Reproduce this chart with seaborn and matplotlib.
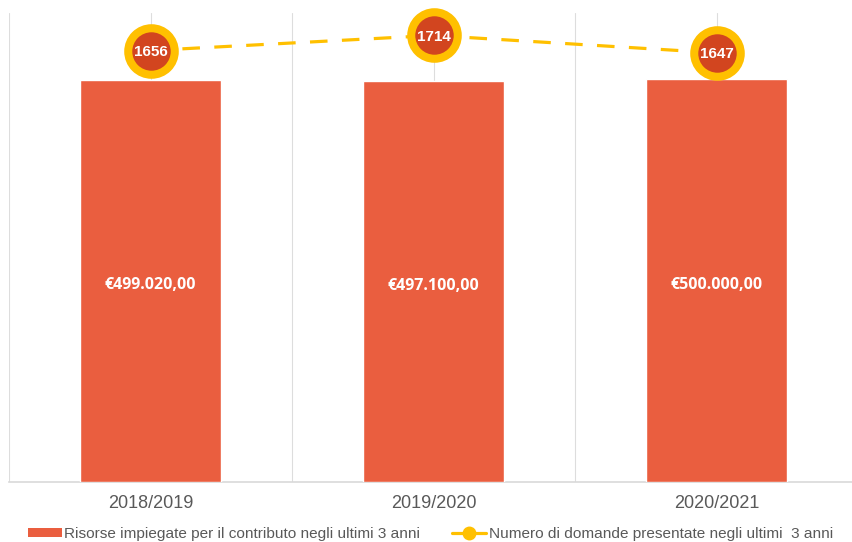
import matplotlib
matplotlib.use("Agg")
import matplotlib.pyplot as plt
import seaborn as sns
import numpy as np
import pandas as pd
from matplotlib.lines import Line2D
from matplotlib.patches import Patch

categories = ["2018/2019", "2019/2020", "2020/2021"]
risorse = [499020.00, 497100.00, 500000.00]
domande = [1656, 1714, 1647]
bar_labels = ["€499.020,00", "€497.100,00", "€500.000,00"]
legend_labels = ["Risorse impiegate per il contributo negli ultimi 3 anni",
                 "Numero di domande presentate negli ultimi  3 anni"]

BAR = "#EA5E3F"
RING = "#FFC000"
INNER = "#D2451F"
GRID = "#DDDDDD"
TXT = "#595959"

sns.set_theme(style="white")
plt.rcParams["font.family"] = ["Liberation Sans", "DejaVu Sans"]

fig = plt.figure(figsize=(8.52, 5.42), dpi=100)
W, H = 852, 542
ax = fig.add_axes([9 / W, 60 / H, 849 / W, 469 / H])

df = pd.DataFrame({"cat": categories, "val": risorse})
sns.barplot(data=df, x="cat", y="val", ax=ax, color=BAR, saturation=1,
            width=0.5, zorder=3)
ax.set_ylim(0, 582000)
ax.set_xlim(-0.5, 2.5)

# vertical grid lines
for xv in np.arange(-0.5, len(categories), 0.5):
    ax.axvline(xv, color=GRID, lw=0.8, zorder=0)

for c in ax.containers:
    texts = ax.bar_label(c, labels=bar_labels, label_type="center", color="white",
                         fontsize=11.5, fontweight="bold",
                         family=["Open Sans", "DejaVu Sans"])
    for t in texts:
        t.xyann = (0, -3)

for s in ["top", "right", "left"]:
    ax.spines[s].set_visible(False)
ax.spines["bottom"].set_color("#D9D9D9")
ax.spines["bottom"].set_linewidth(1.2)
ax.set_yticks([])
ax.set_xlabel("")
ax.set_ylabel("")
ax.tick_params(axis="x", length=0, pad=9.5, labelsize=13, labelcolor=TXT)

ax2 = ax.twinx()
ldf = pd.DataFrame({"x": np.arange(len(categories)), "y": domande})
sns.lineplot(data=ldf, x="x", y="y", ax=ax2, color=RING, lw=2.3,
             marker="o", markersize=33.5, markerfacecolor=INNER,
             markeredgecolor=RING, markeredgewidth=5.8, zorder=5)
for ln in ax2.get_lines():
    ln.set_dashes([5.5, 4.5])
    ln.set_clip_on(False)
ax2.set_ylim(0, 1800)
ax2.set_yticks([])
ax2.set_ylabel("")
ax2.set_xlabel("")
for s in ax2.spines.values():
    s.set_visible(False)
for i, v in enumerate(domande):
    ax2.text(i, v, str(v), ha="center", va="center_baseline", color="white",
             fontsize=11, fontweight="bold", zorder=6, clip_on=False)

handles = [Patch(facecolor=BAR, edgecolor="none"),
           Line2D([0], [0], color=RING, lw=2.3, marker="o", markersize=9,
                  markerfacecolor=RING, markeredgecolor=RING)]
fig.legend(handles, legend_labels, loc="center", bbox_to_anchor=(0.505, 8 / H),
           ncol=2, frameon=False, fontsize=11.1, labelcolor=TXT,
           handlelength=2.2, handletextpad=0.15, columnspacing=2.1,
           handleheight=0.6)

fig.savefig("out.png", dpi=100, facecolor="white")
